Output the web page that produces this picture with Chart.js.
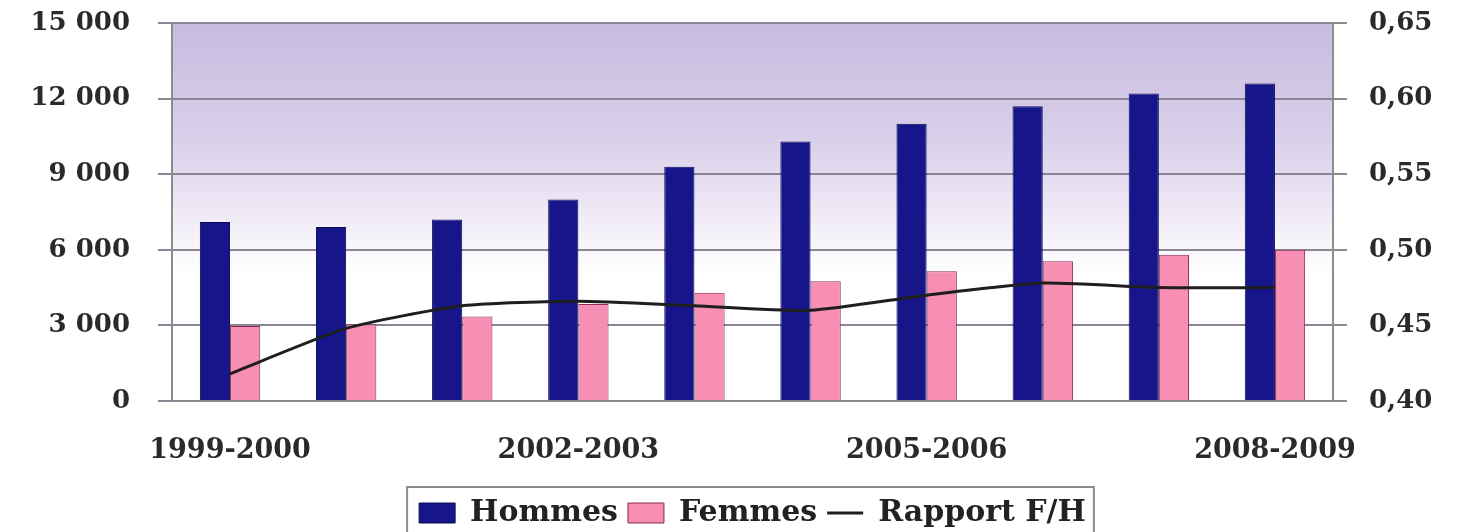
<!DOCTYPE html>
<html>
<head>
<meta charset="utf-8">
<script src="https://cdn.jsdelivr.net/npm/chart.js@4/dist/chart.umd.min.js"></script>
<style>
  html, body { margin: 0; padding: 0; background: #fff; }
  #wrap { width: 1458px; height: 532px; }
</style>
</head>
<body>
<div id="wrap"><canvas id="chart" width="1458" height="532"></canvas></div>
<script>
const years = ['1999-2000', '2000-2001', '2001-2002', '2002-2003', '2003-2004',
  '2004-2005', '2005-2006', '2006-2007', '2007-2008', '2008-2009'];
const hommes = [7100, 6900, 7200, 8000, 9300, 10300, 11000, 11700, 12200, 12600];
const femmes = [2980, 3050, 3350, 3850, 4300, 4750, 5150, 5550, 5800, 6000];
const rapport = [0.418, 0.448, 0.463, 0.466, 0.463, 0.460, 0.470, 0.478, 0.475, 0.475];
const leftTicks = [0, 3000, 6000, 9000, 12000, 15000];
const rightTicks = [0.40, 0.45, 0.50, 0.55, 0.60, 0.65];

const serif = '"DejaVu Serif", "Liberation Serif", serif';

function frNumber(v) {
  return String(v).replace(/\B(?=(\d{3})+(?!\d))/g, ' ');
}

// lavender wash in the top of the plot area
const plotBackground = {
  id: 'plotBackground',
  beforeDraw(chart) {
    const { ctx, chartArea: a } = chart;
    const g = ctx.createLinearGradient(0, a.top, 0, a.bottom);
    g.addColorStop(0, '#c7bcdf');
    g.addColorStop(0.3, '#d8cfea');
    g.addColorStop(0.52, '#f1ecf7');
    g.addColorStop(0.66, '#ffffff');
    ctx.save();
    ctx.fillStyle = g;
    ctx.fillRect(a.left, a.top, a.right - a.left, a.bottom - a.top);
    ctx.restore();
  },
};

// frame around the legend items
const legendFrame = {
  id: 'legendFrame',
  afterDraw(chart) {
    const boxes = chart.legend.legendHitBoxes;
    if (!boxes || !boxes.length) return;
    const left = Math.min(...boxes.map((b) => b.left)) - 12;
    const right = Math.max(...boxes.map((b) => b.left + b.width)) + 8;
    const { ctx } = chart;
    ctx.save();
    ctx.strokeStyle = '#8c8c8c';
    ctx.lineWidth = 2;
    ctx.strokeRect(left, 487, right - left, 60);
    ctx.restore();
  },
};

// keep the label padding from pushing the plot area down
function flatPadding(scale) {
  scale.paddingTop = 0;
  scale.paddingBottom = 0;
}

new Chart(document.getElementById('chart'), {
  data: {
    labels: years,
    datasets: [
      {
        type: 'line',
        label: 'Rapport F/H',
        data: rapport,
        yAxisID: 'y2',
        borderColor: '#1e1e1e',
        backgroundColor: '#1e1e1e',
        borderWidth: 3,
        pointRadius: 0,
        tension: 0.2,
        pointStyle: 'line',
        order: 0,
      },
      {
        type: 'bar',
        label: 'Hommes',
        data: hommes,
        yAxisID: 'y',
        backgroundColor: '#16168a',
        borderColor: '#0c0c55',
        borderWidth: 1,
        pointStyle: 'rect',
        categoryPercentage: 0.52,
        barPercentage: 1,
        order: 1,
      },
      {
        type: 'bar',
        label: 'Femmes',
        data: femmes,
        yAxisID: 'y',
        backgroundColor: '#f68fb3',
        borderColor: '#8a2a55',
        borderWidth: 1,
        pointStyle: 'rect',
        categoryPercentage: 0.52,
        barPercentage: 1,
        order: 1,
      },
    ],
  },
  options: {
    responsive: false,
    animation: false,
    layout: { padding: { top: 23, left: 0, right: 0, bottom: -6 } },
    plugins: {
      tooltip: { enabled: false },
      legend: {
        position: 'bottom',
        fullSize: false,
        labels: {
          usePointStyle: true,
          pointStyleWidth: 36,
          boxHeight: 20,
          padding: 10,
          color: '#222',
          font: { family: serif, size: 30, weight: 'bold' },
          sort: (a, b) => ['Hommes', 'Femmes', 'Rapport F/H'].indexOf(a.text)
            - ['Hommes', 'Femmes', 'Rapport F/H'].indexOf(b.text),
        },
      },
    },
    scales: {
      x: {
        grid: { display: false },
        border: { color: '#8c8c8c', width: 2 },
        ticks: {
          autoSkip: false,
          maxRotation: 0,
          padding: 26,
          color: '#2a2a2a',
          font: { family: serif, size: 27, weight: 'bold' },
          callback: (v, i) => (i % 3 === 0 ? years[i] : ''),
        },
        afterFit(scale) { scale.height = 87; },
      },
      y: {
        position: 'left',
        min: 0,
        max: 15000,
        afterBuildTicks(scale) { scale.ticks = leftTicks.map((v) => ({ value: v })); },
        grid: { color: '#8a8494', lineWidth: 2, tickLength: 14 },
        border: { color: '#8c8c8c', width: 2 },
        ticks: {
          padding: 28,
          color: '#2a2a2a',
          font: { family: serif, size: 26, weight: 'bold' },
          callback: (v) => frNumber(v),
        },
        afterFit(scale) { scale.width = 172; flatPadding(scale); },
      },
      y2: {
        position: 'right',
        min: 0.40,
        max: 0.65,
        afterBuildTicks(scale) { scale.ticks = rightTicks.map((v) => ({ value: v })); },
        grid: { drawOnChartArea: false, color: '#8c8c8c', lineWidth: 2, tickLength: 14 },
        border: { color: '#8c8c8c', width: 2 },
        ticks: {
          padding: 22,
          color: '#2a2a2a',
          font: { family: serif, size: 26, weight: 'bold' },
          callback: (v) => v.toFixed(2).replace('.', ','),
        },
        afterFit(scale) { scale.width = 125; flatPadding(scale); },
      },
    },
  },
  plugins: [plotBackground, legendFrame],
});
</script>
</body>
</html>
